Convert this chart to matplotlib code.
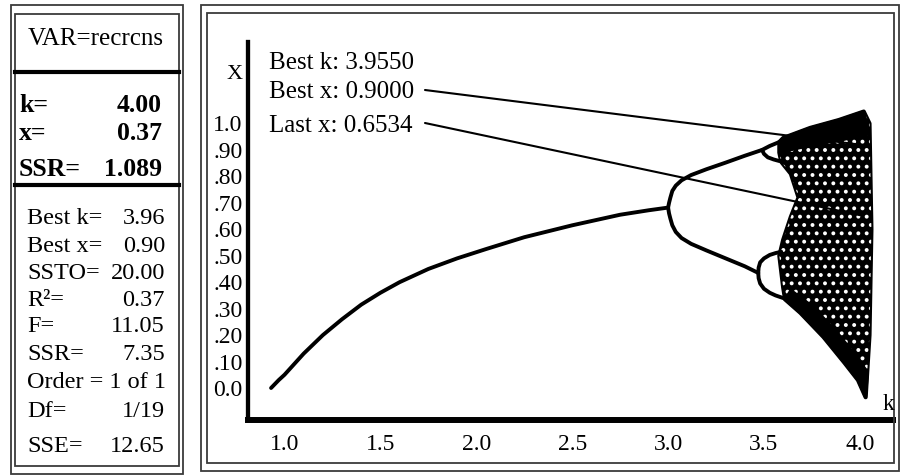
import matplotlib.pyplot as plt
from matplotlib.patches import Rectangle
from matplotlib.lines import Line2D

plt.rcParams['font.family'] = ['Liberation Serif', 'DejaVu Serif']
plt.rcParams['hatch.linewidth'] = 1.6

W, H = 903, 475

# --- data ---
# period 1 branch
k_main = [0.93, 0.97, 1.00, 1.05, 1.10, 1.20, 1.30, 1.40, 1.50, 1.60, 1.75, 1.90, 2.05, 2.25, 2.50, 2.75, 2.90, 3.00]
x_main = [0.00, 0.03, 0.05, 0.09, 0.13, 0.20, 0.26, 0.315, 0.36, 0.40, 0.45, 0.49, 0.525, 0.57, 0.615, 0.655, 0.672, 0.682]
# period 2, upper and lower branch
k_up = [3.00, 3.005, 3.012, 3.022, 3.04, 3.07, 3.12, 3.20, 3.30, 3.40, 3.49, 3.53, 3.58]
x_up = [0.682, 0.70, 0.72, 0.745, 0.765, 0.785, 0.805, 0.827, 0.852, 0.878, 0.90, 0.915, 0.93]
k_lo = [3.00, 3.005, 3.012, 3.022, 3.04, 3.07, 3.12, 3.20, 3.30, 3.40, 3.47]
x_lo = [0.682, 0.66, 0.64, 0.615, 0.59, 0.567, 0.545, 0.52, 0.49, 0.46, 0.435]
# period 4 bubbles
k_b_top = [3.47, 3.472, 3.48, 3.50, 3.53, 3.56, 3.59]
x_b_top = [0.435, 0.455, 0.475, 0.49, 0.503, 0.51, 0.515]
k_b_bot = [3.47, 3.472, 3.48, 3.50, 3.53, 3.56, 3.60, 3.62]
x_b_bot = [0.435, 0.415, 0.395, 0.375, 0.36, 0.35, 0.34, 0.335]
k_s_bot = [3.49, 3.50, 3.52, 3.55, 3.58, 3.60]
x_s_bot = [0.90, 0.885, 0.872, 0.864, 0.858, 0.86]
# outline of the chaotic region
chaos_k = [3.58, 3.60, 3.74, 3.89, 4.02, 4.05, 4.06, 4.05, 4.03, 3.99, 3.92, 3.81,
           3.69, 3.61, 3.60, 3.59, 3.58, 3.60, 3.64, 3.68, 3.64, 3.59, 3.58]
chaos_x = [0.93, 0.945, 0.983, 1.013, 1.045, 1.00, 0.60, 0.20, -0.035, 0.03, 0.095, 0.193,
           0.284, 0.335, 0.38, 0.44, 0.50, 0.56, 0.647, 0.72, 0.81, 0.855, 0.89]
# dense strips of the chaotic band (top edge and lower edge)
top_k = [3.58, 3.60, 3.74, 3.89, 4.02, 4.05, 3.92, 3.76, 3.64, 3.59]
top_x = [0.93, 0.945, 0.983, 1.013, 1.045, 0.96, 0.94, 0.92, 0.90, 0.88]
low_k = [3.61, 3.69, 3.81, 3.92, 3.99, 4.03, 4.04, 3.97, 3.87, 3.75, 3.64]
low_x = [0.335, 0.284, 0.193, 0.095, 0.03, -0.035, 0.06, 0.13, 0.22, 0.31, 0.37]

best_k, best_x, last_x = 3.9550, 0.9000, 0.6534
best_pt = (4.0, 0.92)
last_pt = (4.0, 0.6534)

x_ticks = [1.0, 1.5, 2.0, 2.5, 3.0, 3.5, 4.0]
x_labels = ['1.0', '1.5', '2.0', '2.5', '3.0', '3.5', '4.0']
y_ticks = [0.0, 0.1, 0.2, 0.3, 0.4, 0.5, 0.6, 0.7, 0.8, 0.9, 1.0]
y_labels = ['0.0', '.10', '.20', '.30', '.40', '.50', '.60', '.70', '.80', '.90', '1.0']

var_name = 'recrcns'
cur_labels = ['k=', 'x=', 'SSR=']
cur_values = ['4.00', '0.37', '1.089']
stat_labels = ['Best k=', 'Best x=', 'SSTO=', 'R²=', 'F=', 'SSR=', 'Order = 1 of 1', 'Df=', 'SSE=']
stat_values = ['3.96', '0.90', '20.00', '0.37', '11.05', '7.35', '', '1/19', '12.65']

fig = plt.figure(figsize=(W / 100, H / 100), dpi=100)


def fx(x):
    return x / W


def fy(y):
    return 1 - y / H


def ftext(x, y, s, **kw):
    fig.text(fx(x), fy(y), s, **kw)


def frame(x0, y0, x1, y1, lw=1.3, c='#3a3a3a'):
    fig.add_artist(Rectangle((fx(x0), fy(y1)), (x1 - x0) / W, (y1 - y0) / H,
                             transform=fig.transFigure, fill=False, ec=c, lw=lw))


def hline(x0, x1, y, lw=3):
    fig.add_artist(Line2D([fx(x0), fx(x1)], [fy(y), fy(y)], lw=lw, color='black',
                          transform=fig.transFigure))


# left panel
frame(11, 5, 183.5, 473.5)
frame(15, 14, 179, 466)
hline(15, 179, 72)
hline(15, 179, 185)
ftext(96, 45, 'VAR=' + var_name, fontsize=18, ha='center', va='baseline')
for i, (lab, val) in enumerate(zip(cur_labels, cur_values)):
    y = [112, 140, 176][i]
    ftext(19, y, lab, fontsize=18.5, fontweight='bold', va='baseline')
    ftext(162, y, val, fontsize=18.5, fontweight='bold', va='baseline', ha='right')
stat_y = [224, 252, 279, 306, 332, 360, 388, 417, 452]
for lab, val, y in zip(stat_labels, stat_values, stat_y):
    ftext(27, y, lab, fontsize=17.5, va='baseline')
    if val:
        ftext(165, y, val, fontsize=17.5, va='baseline', ha='right')

# right panel
frame(201, 5, 899, 471)
frame(207, 13, 894, 463)

ax = fig.add_axes([fx(248), fy(420), (893 - 248) / W, (420 - 42) / H])
ax.set_xlim(0.8097, 4.1726)
ax.set_ylim(-0.121, 1.308)
for s in ['top', 'right']:
    ax.spines[s].set_visible(False)
ax.spines['left'].set_linewidth(3.1)
ax.spines['bottom'].set_linewidth(4.3)
ax.patch.set_alpha(0)

ax.fill(chaos_k, chaos_x, facecolor='black', edgecolor='black', lw=3, joinstyle='round')
ax.fill(chaos_k, chaos_x, facecolor='none', edgecolor='white', hatch='..', lw=0)
ax.fill(top_k, top_x, facecolor='black', edgecolor='black', lw=2, joinstyle='round')
ax.fill(low_k, low_x, facecolor='black', edgecolor='black', lw=2, joinstyle='round')

lw = 2.8
for kk, xx in [(k_main, x_main), (k_up, x_up), (k_lo, x_lo), (k_b_top, x_b_top),
               (k_b_bot, x_b_bot), (k_s_bot, x_s_bot)]:
    ax.plot(kk, xx, color='black', lw=lw, solid_capstyle='round', solid_joinstyle='round')

ax.set_xticks(x_ticks)
ax.set_xticklabels(x_labels)
ax.set_yticks(y_ticks)
ax.set_yticklabels(y_labels)
ax.tick_params(axis='both', length=0, labelsize=17)
ax.tick_params(axis='y', pad=4)
ax.tick_params(axis='x', pad=10)

ftext(235, 79, 'X', fontsize=16, ha='center', va='baseline')
ftext(888, 410, 'k', fontsize=17, ha='center', va='baseline')

ftext(269, 69, f'Best k: {best_k:.4f}', fontsize=18, va='baseline')
ftext(269, 98, f'Best x: {best_x:.4f}', fontsize=18, va='baseline')
ftext(269, 132, f'Last x: {last_x:.4f}', fontsize=18, va='baseline')
ax.annotate('', xy=best_pt, xytext=(425, H - 90), textcoords='figure pixels',
            arrowprops=dict(arrowstyle='-', lw=1.5, color='black', shrinkA=0, shrinkB=0))
ax.annotate('', xy=last_pt, xytext=(425, H - 123), textcoords='figure pixels',
            arrowprops=dict(arrowstyle='-', lw=1.5, color='black', shrinkA=0, shrinkB=0))

fig.savefig('out.png', dpi=100)
